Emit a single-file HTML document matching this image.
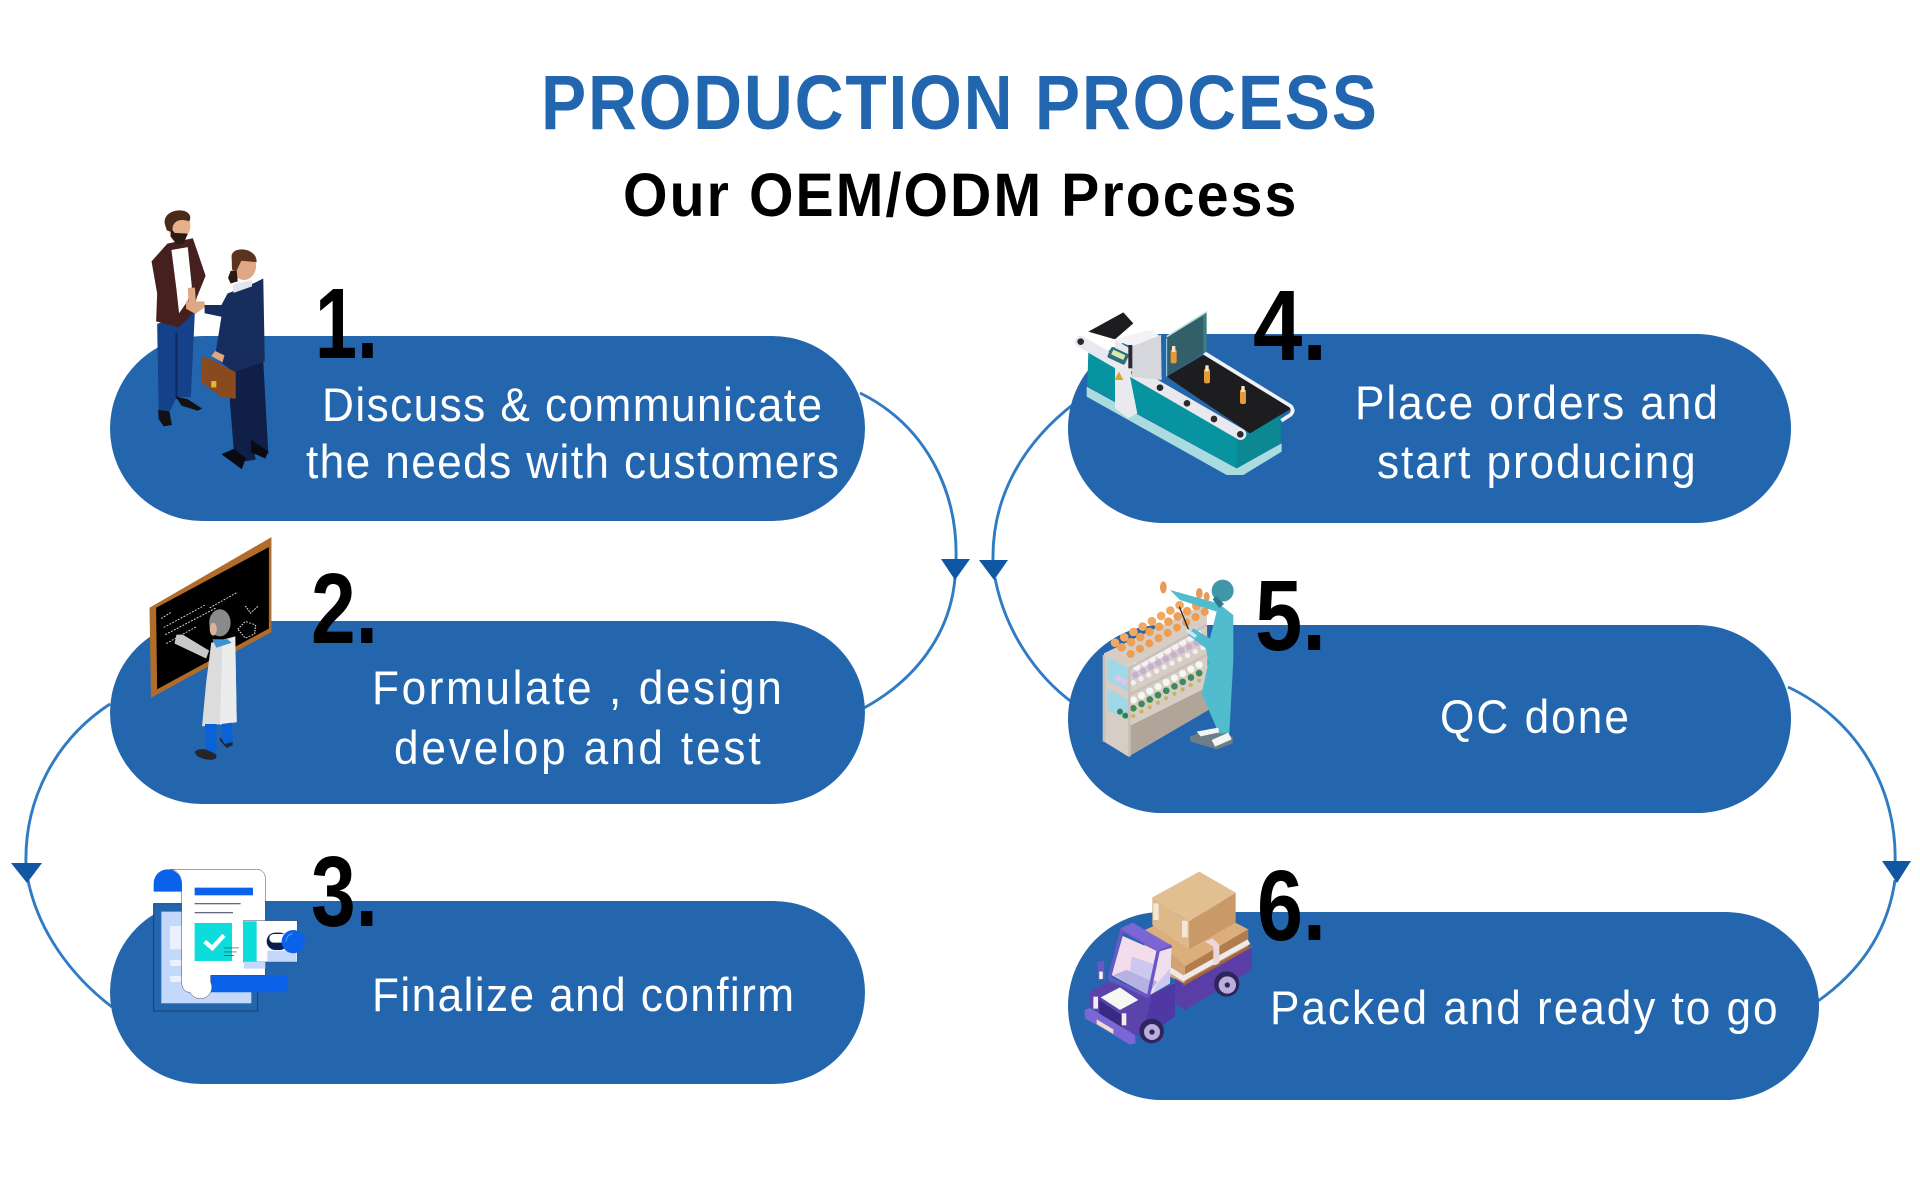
<!DOCTYPE html>
<html><head><meta charset="utf-8"><title>Production Process</title>
<style>html,body{margin:0;padding:0;background:#fff}svg{display:block}
text{font-family:"Liberation Sans",Arial,sans-serif}
.t{fill:#fff;font-size:47px}.n{fill:#000;font-size:100px;font-weight:bold}</style></head>
<body>
<svg width="1920" height="1185" viewBox="0 0 1920 1185" xmlns="http://www.w3.org/2000/svg">
<rect width="1920" height="1185" fill="#fff"/>
<text transform="translate(541 129) scale(.88 1)" font-size="77" font-weight="bold" fill="#2266b0" textLength="950" lengthAdjust="spacing">PRODUCTION PROCESS</text>
<text transform="translate(623 216) scale(.93 1)" font-size="61.5" font-weight="bold" fill="#000" textLength="724" lengthAdjust="spacing">Our OEM/ODM Process</text>

<!-- connectors -->
<g fill="none" stroke="#2f7bc4" stroke-width="2.9">
<path d="M860 393C925 425 958 490 956 560"/>
<path d="M955 578C950 635 915 680 864 708"/>
<path d="M1075 403C1020 445 992 500 993 560"/>
<path d="M995 578C1005 630 1035 675 1073 703"/>
<path d="M110 704C55 740 24 800 26 865"/>
<path d="M28 880C38 930 70 975 112 1007"/>
<path d="M1788 687C1858 720 1898 790 1895 865"/>
<path d="M1895 880C1888 930 1862 970 1818 1001"/>
</g>
<g fill="#0f57a3">
<polygon points="941,559 970,559 955,580"/>
<polygon points="979,560 1008,560 994,580"/>
<polygon points="11,863 42,863 27,883"/>
<polygon points="1882,861 1911,861 1897,883"/>
</g>

<!-- pills -->
<g fill="#2466ae">
<rect x="110" y="336" width="755" height="185" rx="92.5"/>
<rect x="110" y="621" width="755" height="183" rx="91.5"/>
<rect x="110" y="901" width="755" height="183" rx="91.5"/>
<rect x="1068" y="334" width="723" height="189" rx="94.5"/>
<rect x="1068" y="625" width="723" height="188" rx="94"/>
<rect x="1068" y="912" width="751" height="188" rx="94"/>
</g>

<!-- labels -->
<text class="t" transform="translate(322 421) scale(.94 1)" textLength="532" lengthAdjust="spacing">Discuss &amp; communicate</text>
<text class="t" transform="translate(306 478) scale(.94 1)" textLength="567" lengthAdjust="spacing">the needs with customers</text>
<text class="t" transform="translate(372 704) scale(.94 1)" textLength="436" lengthAdjust="spacing">Formulate , design</text>
<text class="t" transform="translate(394 764) scale(.94 1)" textLength="390" lengthAdjust="spacing">develop and test</text>
<text class="t" transform="translate(372 1011) scale(.94 1)" textLength="449" lengthAdjust="spacing">Finalize and confirm</text>
<text class="t" transform="translate(1355 419) scale(.94 1)" textLength="386" lengthAdjust="spacing">Place orders and</text>
<text class="t" transform="translate(1377 478) scale(.94 1)" textLength="339" lengthAdjust="spacing">start producing</text>
<text class="t" transform="translate(1440 733) scale(.94 1)" textLength="201" lengthAdjust="spacing">QC done</text>
<text class="t" transform="translate(1270 1024) scale(.94 1)" textLength="540" lengthAdjust="spacing">Packed and ready to go</text>

<!-- Illustration 1 & 2 (top): zoom-1 coordinates -->
<g transform="translate(100 190) scale(.5102 .3571)">
 <!-- left man -->
 <path d="M112 375L186 340 178 580 150 580 137 620 115 620z" fill="#15408a"/>
 <path d="M150 400L150 585" stroke="#0e2a60" stroke-width="4"/>
 <path d="M148 578l24 8 28 26-8 6-32-14zM114 616l22 4 5 38-16 4-10-20z" fill="#111"/>
 <polygon points="132,150 182,135 207,240 190,300 182,345 155,385 110,368 112,290 101,200" fill="#46201f"/>
 <polygon points="140,168 172,160 180,270 172,310 155,345 150,280" fill="#fff"/>
 <ellipse cx="155" cy="100" rx="22" ry="40" fill="#e7b08d"/>
 <path d="M127 95c-5-45 52-50 50-15l-2 8c-15-8-27-4-32 12l-2 18-10-5z" fill="#4a2a18"/>
 <path d="M140 108l6 12 26 2-8 28-14 2-12-22z" fill="#2a1a12"/>
 <path d="M172 275l14-2 2 40-14 12zM168 312h36l3 15-20 20-18-14z" fill="#e0a882"/>
 <!-- right man -->
 <polygon points="252,500 320,480 330,740 300,705 305,755 285,760 262,725 255,600" fill="#101f47"/>
 <path d="M238 740l24-15 24 25-8 32zM296 700l34 32-6 20-28-18z" fill="#0a0a12"/>
 <polygon points="250,290 300,262 320,248 323,480 262,510 225,470 238,355 205,345 205,322 238,322" fill="#172d5e"/>
 <polygon points="260,265 298,252 298,270 262,288" fill="#dfe6f0"/>
 <ellipse cx="282" cy="212" rx="24" ry="40" fill="#dfa784"/>
 <path d="M258 190c-4-35 50-32 49 12l-30-4-10 30-8-5z" fill="#5b3420"/>
 <path d="M256 226l12 0 2 30-14 6-5-16z" fill="#2a1a12"/>
 <path d="M198 470l10-2 58 42 0 75-28-5-38-40z" fill="#8a4a20"/>
 <rect x="218" y="535" width="10" height="18" fill="#e6b52c"/>
 <path d="M218 465l22 18 4-20-18-12z" fill="#dfa784"/>

 <!-- board -->
 <polygon points="97,1170 336,972 336,1238 100,1422" fill="#b26c2a"/>
 <polygon points="110,1170 331,1000 331,1228 112,1398" fill="#000"/>
 <g stroke="#fff" stroke-width="2.5" stroke-dasharray="4 3" fill="none" opacity=".85">
  <path d="M120 1200l20-18M125 1225l80-62M128 1245l100-75M130 1270l60-48M215 1170l55-44"/>
  <path d="M270 1230l15-22 20 10-2 25-18 12zM285 1165l10 20 15-20"/>
 </g>
 <path d="M150 1245l12 0 52 45-6 22-62-42z" fill="#c8c8c8"/>
 <polygon points="218,1268 265,1250 268,1490 200,1502 208,1380" fill="#dcdcdc"/>
 <polygon points="240,1270 265,1250 268,1490 235,1498" fill="#ececec"/>
 <path d="M220 1258l30 0 8 10-30 14z" fill="#3c93d2"/>
 <ellipse cx="235" cy="1212" rx="21" ry="38" fill="#8a8a8a"/>
 <ellipse cx="222" cy="1230" rx="7" ry="18" fill="#d8b39a"/>
</g>

<!-- Illustration legs + 3: zoom-2 coordinates -->
<g transform="translate(0 680) scale(.3333)">
 <path d="M615 132l35 0-2 92-30 4zM665 132l30-4 4 62-20 10-14-20z" fill="#0a62d8"/>
 <path d="M585 215c8-10 30-8 34-6l30 14v12l-14 5c-20 0-50-8-50-25z" fill="#25262c"/>
 <path d="M660 170l14 22 24-6 0 10-18 8-20-22z" fill="#25262c"/>

 <rect x="461" y="671" width="312" height="322" fill="#2466ae" stroke="#153f77" stroke-width="3"/>
 <rect x="484" y="695" width="270" height="275" fill="#c3d8fa"/>
 <rect x="510" y="738" width="70" height="70" fill="#eaf1fd"/>
 <rect x="510" y="840" width="70" height="18" fill="#eaf1fd"/>
 <rect x="510" y="888" width="70" height="18" fill="#eaf1fd"/>
 <path d="M461 635v-25a42 42 0 0 1 84 0v25z" fill="#0a62eb"/>
 <rect x="459" y="638" width="90" height="31" fill="#fff"/>
 <path d="M612 885h252v30a22 22 0 0 1-22 22H600z" fill="#0a62eb"/>
 <path d="M510 568h260a26 26 0 0 1 26 26v292H632v20a31 31 0 0 1-62 31h-2c-14 0-23-14-23-30V610c0-20-14-42-35-42z" fill="#fff" stroke="#39406a" stroke-width="1.5"/>
 <rect x="584" y="623" width="175" height="23" fill="#0a62eb"/>
 <rect x="584" y="669" width="138" height="4" fill="#666c80"/>
 <rect x="584" y="696" width="115" height="4" fill="#666c80"/>
 <rect x="584" y="729" width="112" height="114" fill="#0cdcdc"/>
 <path d="M614 785l23 19 35-38" fill="none" stroke="#fff" stroke-width="13"/>
 <path d="M672 804h45M672 816h38M672 827h30" stroke="#444" stroke-width="2"/>
 <rect x="730" y="722" width="162" height="124" fill="#fff" stroke="#39406a" stroke-width="1.5"/>
 <rect x="732" y="724" width="38" height="120" fill="#0cdcdc"/>
 <rect x="802" y="812" width="88" height="32" fill="#c3d8fa"/>
 <rect x="732" y="846" width="64" height="20" fill="#c3d8fa"/>
 <rect x="800" y="758" width="65" height="52" rx="26" fill="#0c1c50"/>
 <rect x="808" y="762" width="55" height="26" rx="13" fill="#fff"/>
 <circle cx="880" cy="785" r="35" fill="#0a62eb"/>
 <path d="M858 785a24 24 0 0 1 20-24" stroke="#9cc0f7" stroke-width="2" fill="none"/>
</g>

<!-- Illustration 4: zoom-3 coordinates -->
<g transform="translate(1060 280) scale(.3333)">
 <path d="M80 320v30l420 235 50 0 115-70v-25L530 565z" fill="#a9dbdf"/>
 <polygon points="85,215 540,470 662,400 662,490 530,565 82,318" fill="#07939f"/>
 <polygon points="530,470 662,400 662,490 530,565" fill="#0b8892"/>
 <polygon points="85,155 190,97 220,130 165,178" fill="#1d1d20"/>
 <polygon points="320,290 430,225 695,385 570,460" fill="#1d1d20"/>
 <path d="M432 218L692 378q12 14 0 26l-28 18" fill="none" stroke="#f2f2f5" stroke-width="11"/>
 <path d="M62 185L542 463" stroke="#e8e8ee" stroke-width="34" stroke-linecap="round" fill="none"/>
 <polygon points="320,170 440,95 440,215 320,290" fill="#3f7b85"/>
 <polygon points="320,170 430,108 430,220 320,290" fill="#2c4d58" opacity=".6"/>
 <path d="M320 170l120-75" stroke="#bfe0e4" stroke-width="5"/>
 <path d="M320 175v115" stroke="#a9d6dd" stroke-width="3"/>
 <g fill="#2a2a2e"><circle cx="62" cy="185" r="10"/><circle cx="223" cy="278" r="10"/><circle cx="300" cy="323" r="10"/><circle cx="381" cy="370" r="10"/><circle cx="462" cy="417" r="10"/><circle cx="541" cy="463" r="10"/></g>
 <polygon points="160,178 270,150 303,170 215,200" fill="#f3f3f6"/>
 <polygon points="165,180 210,205 210,290 232,400 205,415 165,385" fill="#eaeaee"/>
 <polygon points="215,200 303,165 305,300 215,290" fill="#d6d6dd"/>
 <rect x="145" y="210" width="58" height="35" rx="6" transform="rotate(25 174 228)" fill="#2d6f7a"/>
 <rect x="155" y="216" width="40" height="16" transform="rotate(25 174 224)" fill="#d8e9b0"/>
 <polygon points="177,275 190,300 163,300" fill="#e0a32a"/>
 <rect x="205" y="195" width="12" height="70" fill="#2a2a2e"/>
 <g fill="#e89a38"><rect x="332" y="208" width="18" height="42" rx="6"/><rect x="432" y="266" width="18" height="44" rx="6"/><rect x="540" y="328" width="18" height="44" rx="6"/></g>
 <g fill="#f8e6c8"><rect x="336" y="198" width="10" height="18"/><rect x="436" y="256" width="10" height="18"/><rect x="544" y="318" width="10" height="18"/></g>
</g>

<!-- Illustration 5: zoom-4 coordinates -->
<g transform="translate(1070 560) scale(.3333)">
 <polygon points="102,280 410,130 415,450 175,590 102,545" fill="#d6cdc4"/>
 <polygon points="175,500 405,385 415,450 175,590" fill="#b0a598"/>
 <polygon points="112,290 175,325 175,395 112,360" fill="#9fd8e8"/>
 <polygon points="112,385 175,420 175,480 112,450" fill="#9fd8e8"/>
 <g stroke-linecap="round" fill="none">
  <path d="M135 248L330 135" stroke="#f1a860" stroke-width="26" stroke-dasharray="0 32"/>
  <path d="M155 262L385 135" stroke="#eea057" stroke-width="26" stroke-dasharray="0 32"/>
  <path d="M182 282L405 155" stroke="#ed9c50" stroke-width="24" stroke-dasharray="0 32"/>
  <path d="M200 320L400 212" stroke="#f5f0f3" stroke-width="24" stroke-dasharray="0 26"/>
  <path d="M196 345L405 235" stroke="#c9aed4" stroke-width="20" stroke-dasharray="0 26"/>
  <path d="M190 368L400 262" stroke="#f3eef2" stroke-width="16" stroke-dasharray="0 26"/>
  <path d="M145 355L170 372" stroke="#e0c6e4" stroke-width="20" stroke-dasharray="0 20"/>
  <path d="M190 420L405 305" stroke="#f4f7f2" stroke-width="22" stroke-dasharray="0 28"/>
  <path d="M190 445L405 330" stroke="#3f8a58" stroke-width="20" stroke-dasharray="0 28"/>
  <path d="M190 468L405 352" stroke="#c8b45a" stroke-width="12" stroke-dasharray="0 28"/>
  <path d="M150 455L170 470" stroke="#347e52" stroke-width="18" stroke-dasharray="0 20"/>
 </g>
 <path d="M178 325L410 195M178 405L410 285M178 322V590M102 285V545" stroke="#c9c0b8" stroke-width="8" fill="none"/>
 <ellipse cx="280" cy="82" rx="10" ry="18" fill="#e79a5a"/>
 <ellipse cx="388" cy="100" rx="10" ry="16" fill="#e79a5a"/>
 <ellipse cx="410" cy="110" rx="9" ry="14" fill="#e79a5a"/>
 <polygon points="360,530 420,505 488,530 488,550 440,568 362,545" fill="#6f7d88"/>
 <polygon points="300,90 445,130 490,165 490,300 478,520 440,520 440,505 395,400 415,310 408,265 355,225 370,205 420,235 440,155 330,120" fill="#52bccf"/>
 <path d="M380 515l65-12 2 14-55 12zM425 540l50-22 10 20-50 22z" fill="#f3f5f7"/>
 <path d="M328 140l30 75" stroke="#222" stroke-width="4"/>
 <path d="M350 210l28 20" stroke="#cfe8ee" stroke-width="10"/>
 <circle cx="458" cy="92" r="33" fill="#3f97a8"/>
 <path d="M438 108l24 24-14 12-20-26z" fill="#2c7b8c"/>
</g>

<!-- Illustration 6: zoom-5 coordinates -->
<g transform="translate(1070 850) scale(.3333)">
 <polygon points="225,240 300,205 490,215 535,238 345,350" fill="#dcae7c"/>
 <polygon points="345,350 535,238 535,290 345,405" fill="#b27c4c"/>
 <polygon points="225,240 345,350 345,405 222,335" fill="#d3a473"/>
 <path d="M205 300L340 385 537 275" stroke="#efe9e9" stroke-width="16" fill="none"/>
 <polygon points="405,275 428,265 448,285 448,345 430,345 430,290" fill="#eed6de"/>
 <polygon points="315,385 340,400 545,285 545,360 345,480 315,460" fill="#5a3da6"/>
 <polygon points="340,400 545,285 545,292 340,408" fill="#a3623a"/>
 <circle cx="470" cy="402" r="38" fill="#2f255e"/><circle cx="472" cy="405" r="26" fill="#bbaedb"/><circle cx="472" cy="405" r="8" fill="#2f255e"/>
 <polygon points="247,142 388,65 497,128 357,215" fill="#e2bf90"/>
 <polygon points="247,142 357,215 357,298 247,225" fill="#deb888"/>
 <polygon points="357,215 497,128 497,218 357,298" fill="#c99a68"/>
 <rect x="250" y="160" width="16" height="50" fill="#f2e8d8"/><rect x="336" y="212" width="17" height="50" fill="#f2e8d8"/>
 <!-- cab -->
 <polygon points="240,435 315,400 315,500 215,565 200,510" fill="#4f38a4"/>
 <polygon points="262,305 305,288 300,400 240,435" fill="#f0e0ee"/>
 <polygon points="262,400 300,355 300,400 248,430" fill="#cdc8f0"/>
 <polygon points="60,425 112,395 245,440 215,560 155,540 60,470" fill="#5a43ab"/>
 <polygon points="158,258 265,305 235,435 125,375" fill="#f3ddec"/>
 <polygon points="130,375 170,360 262,395 235,435" fill="#b7b0e4"/>
 <polygon points="185,320 262,345 250,395 180,365" fill="#cdc8f0"/>
 <path d="M155 240L118 385M155 240L265 300 235 440M118 385L235 440M265 300L305 288" stroke="#6b56c6" stroke-width="10" fill="none"/>
 <polygon points="150,235 188,218 302,285 262,302" fill="#7b67d3"/>
 <polygon points="92,442 150,412 205,450 150,480" fill="#f7f7f2"/>
 <polygon points="88,450 155,495 155,545 88,500" fill="#372a82"/>
 <polygon points="43,480 60,474 195,555 197,580 180,584 45,505" fill="#7a66d6"/>
 <polygon points="80,508 130,538 130,552 80,522" fill="#eee0c8"/>
 <rect x="70" y="440" width="14" height="36" fill="#f4ece8"/><rect x="155" y="490" width="14" height="36" fill="#f4ece8"/>
 <path d="M82 335l20-3 2 55-20 5z" fill="#6b56c6"/><rect x="88" y="365" width="10" height="22" fill="#fff"/>
 <circle cx="245" cy="543" r="37" fill="#2f255e"/><circle cx="246" cy="546" r="24" fill="#bbaedb"/><circle cx="246" cy="546" r="8" fill="#2f255e"/>
</g>

<!-- numbers -->
<text class="n" x="315" y="358" textLength="63" lengthAdjust="spacingAndGlyphs">1.</text>
<text class="n" x="311" y="643" textLength="67" lengthAdjust="spacingAndGlyphs">2.</text>
<text class="n" x="311" y="926" textLength="67" lengthAdjust="spacingAndGlyphs">3.</text>
<text class="n" x="1253" y="360" textLength="74" lengthAdjust="spacingAndGlyphs">4.</text>
<text class="n" x="1255" y="650" textLength="71" lengthAdjust="spacingAndGlyphs">5.</text>
<text class="n" x="1257" y="940" textLength="69" lengthAdjust="spacingAndGlyphs">6.</text>
</svg>
</body></html>
